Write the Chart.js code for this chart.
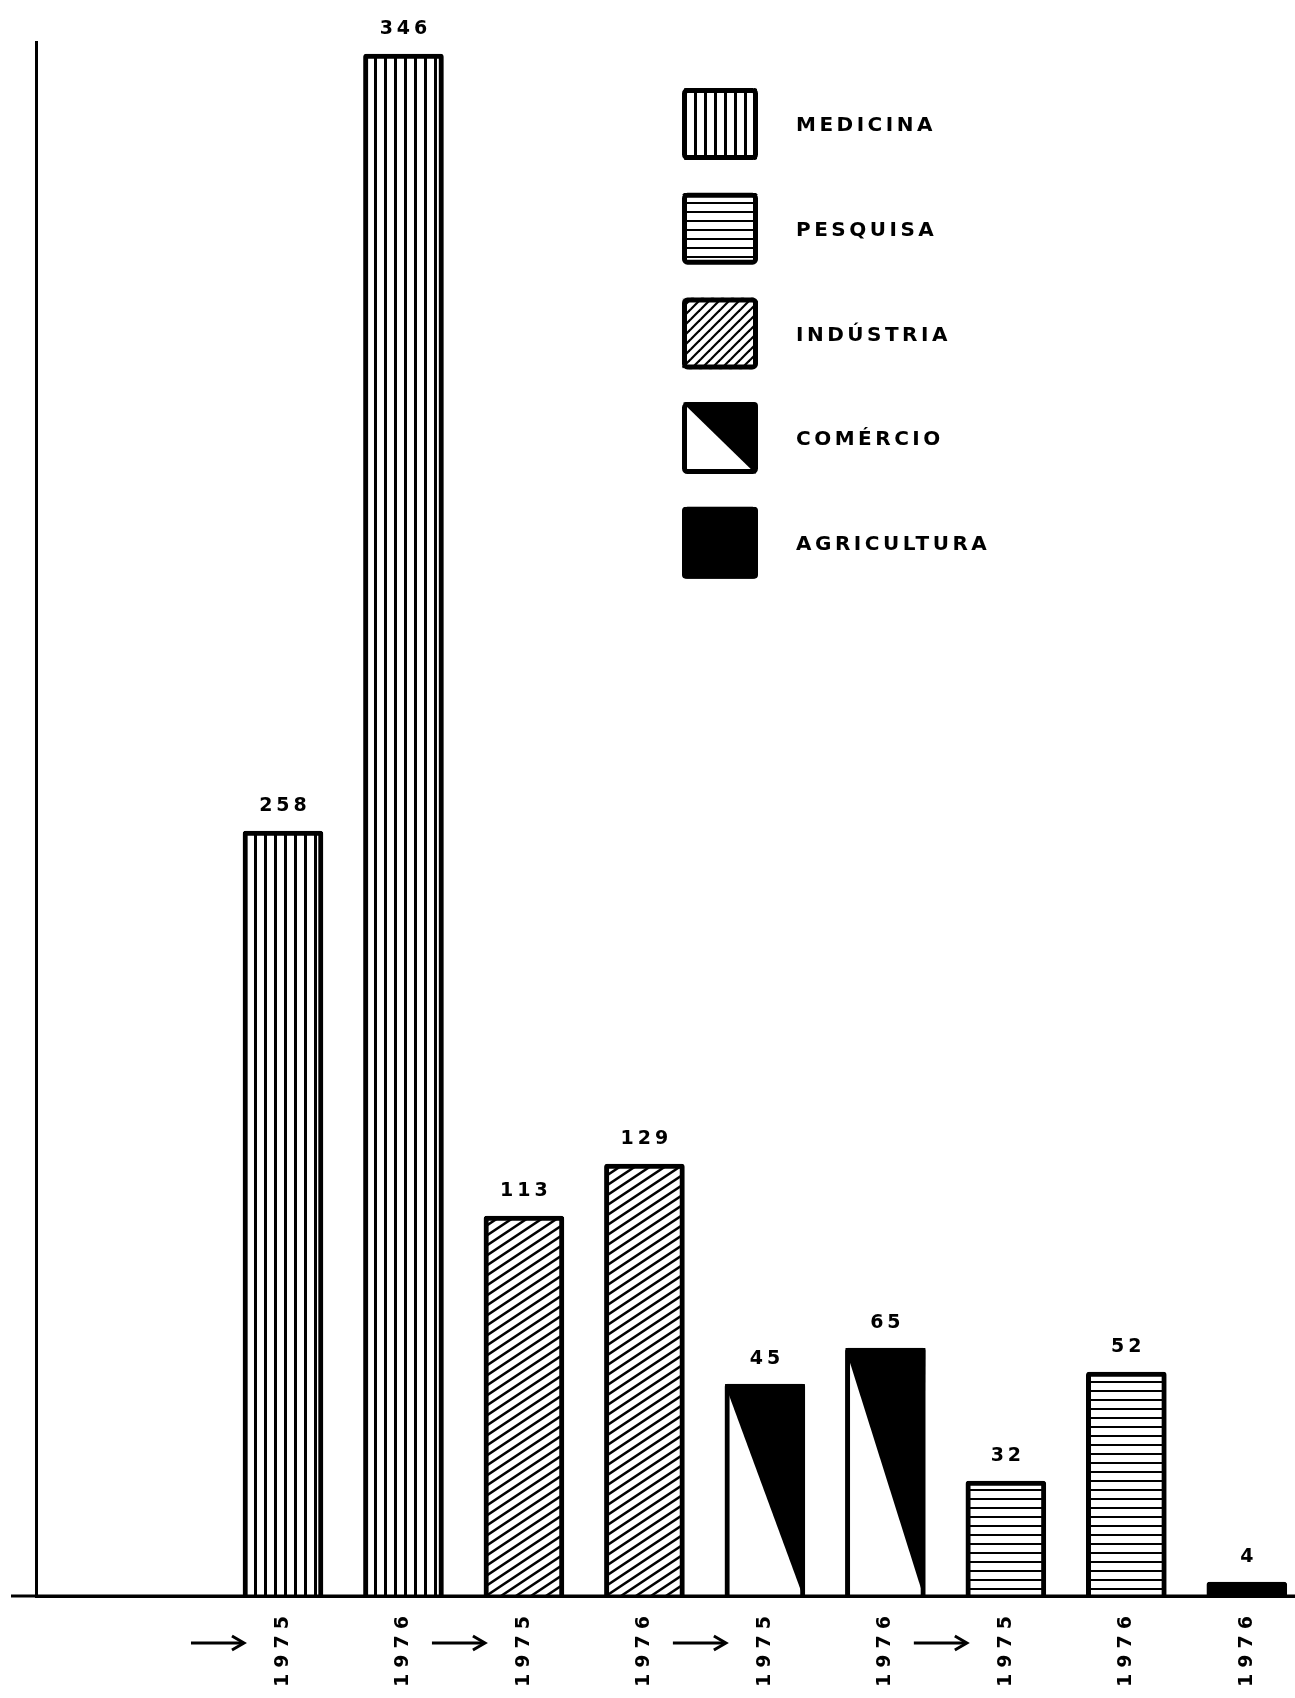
<!DOCTYPE html>
<html>
<head>
<meta charset="utf-8">
<title>Medicina, Pesquisa, Indústria, Comércio, Agricultura – 1975/1976</title>
<script src="https://cdn.jsdelivr.net/npm/chart.js@4/dist/chart.umd.min.js"></script>
<style>
  html, body { margin: 0; padding: 0; background: #fff; }
  #chart { display: block; }
</style>
</head>
<body>
<canvas id="chart" width="1295" height="1698"></canvas>
<script>
// bars, left to right
const sectors = ['MEDICINA', 'MEDICINA', 'INDÚSTRIA', 'INDÚSTRIA', 'COMÉRCIO', 'COMÉRCIO', 'PESQUISA', 'PESQUISA', 'AGRICULTURA'];
const years = ['1975', '1976', '1975', '1976', '1975', '1976', '1975', '1976', '1976'];
// numbers written above the bars
const printedValues = [258, 346, 113, 129, 45, 65, 32, 52, 4];
// the original bars are not to scale, so the heights are read off the drawing (px above the baseline)
const drawnHeights = [765, 1542, 380, 432, 212, 248, 115, 224, 14];
// legend, top to bottom
const legendLabels = ['MEDICINA', 'PESQUISA', 'INDÚSTRIA', 'COMÉRCIO', 'AGRICULTURA'];

const canvas = document.getElementById('chart');
const mainCtx = canvas.getContext('2d');
const FONT = '"DejaVu Sans", "Liberation Sans", sans-serif';

// small tile -> repeating pattern
function makePattern(w, h, draw) {
  const c = document.createElement('canvas');
  c.width = w;
  c.height = h;
  const g = c.getContext('2d');
  g.fillStyle = '#fff';
  g.fillRect(0, 0, w, h);
  g.fillStyle = '#000';
  g.strokeStyle = '#000';
  draw(g, w, h);
  return mainCtx.createPattern(c, 'repeat');
}

// lines rising left to right, one per tile
function diagonal(g, w, h, lw) {
  g.lineWidth = lw;
  for (let k = -1; k <= 1; k++) {
    g.beginPath();
    g.moveTo(-2, h + 2 * h / w + k * h);
    g.lineTo(w + 2, -2 * h / w + k * h);
    g.stroke();
  }
}

const verticalLines = makePattern(10, 4, (g) => g.fillRect(4, 0, 3, 4));
const horizontalLines = makePattern(4, 9, (g) => g.fillRect(0, 4, 4, 2));
const slantLines = makePattern(15, 10, (g, w, h) => diagonal(g, w, h, 2.5));
const slantLegend = makePattern(10, 10, (g, w, h) => diagonal(g, w, h, 2.2));

const fills = {
  'MEDICINA': verticalLines,
  'PESQUISA': horizontalLines,
  'INDÚSTRIA': slantLines,
  'COMÉRCIO': '#fff',
  'AGRICULTURA': '#000'
};

// white lower-left half, black upper-right half
function comercioTriangle(ctx, left, top, right, bottom) {
  ctx.fillStyle = '#000';
  ctx.beginPath();
  ctx.moveTo(left, top);
  ctx.lineTo(right, top);
  ctx.lineTo(right - 2, bottom);
  ctx.closePath();
  ctx.fill();
}

const decorations = {
  id: 'decorations',
  beforeDraw(chart) {
    // spaced-out lettering for the year labels
    chart.ctx.letterSpacing = '6px';
  },
  afterDatasetsDraw(chart) {
    const ctx = chart.ctx;
    const area = chart.chartArea;
    const meta = chart.getDatasetMeta(0);
    ctx.save();

    meta.data.forEach((bar, i) => {
      const { x, y, base, width } = bar.getProps(['x', 'y', 'base', 'width'], true);
      if (sectors[i] === 'COMÉRCIO') {
        comercioTriangle(ctx, x - width / 2, y, x + width / 2, base);
      }

      // number above the bar
      ctx.fillStyle = '#000';
      ctx.font = 'bold 19px ' + FONT;
      ctx.letterSpacing = '4px';
      ctx.textAlign = 'center';
      ctx.textBaseline = 'middle';
      ctx.fillText(String(printedValues[i]), x + 2, y - 25);

      // arrow in front of each pair of years
      if (years[i] === '1975') {
        const ax = x - 65;
        const ay = area.bottom + 47;
        ctx.strokeStyle = '#000';
        ctx.lineWidth = 3;
        ctx.beginPath();
        ctx.moveTo(ax - 27, ay);
        ctx.lineTo(ax + 25, ay);
        ctx.stroke();
        ctx.beginPath();
        ctx.moveTo(ax + 14, ay - 7);
        ctx.lineTo(ax + 26, ay);
        ctx.lineTo(ax + 14, ay + 7);
        ctx.stroke();
      }
    });

    // baseline runs a bit left of the vertical axis
    ctx.strokeStyle = '#000';
    ctx.lineWidth = 3;
    ctx.beginPath();
    ctx.moveTo(11, area.bottom);
    ctx.lineTo(area.right, area.bottom);
    ctx.stroke();

    // legend
    legendLabels.forEach((label, i) => {
      const bx = 682, by = 88 + i * 104.7, bw = 76, bh = 72;
      ctx.save();
      ctx.beginPath();
      ctx.roundRect(bx, by, bw, bh, 4);
      ctx.clip();
      ctx.fillStyle = label === 'INDÚSTRIA' ? slantLegend : fills[label];
      ctx.fillRect(bx, by, bw, bh);
      if (label === 'COMÉRCIO') comercioTriangle(ctx, bx, by, bx + bw, by + bh);
      ctx.restore();
      ctx.strokeStyle = '#000';
      ctx.lineWidth = 5;
      ctx.beginPath();
      ctx.roundRect(bx + 2.5, by + 2.5, bw - 5, bh - 5, 3);
      ctx.stroke();

      ctx.fillStyle = '#000';
      ctx.font = 'bold 20px ' + FONT;
      ctx.letterSpacing = '3.5px';
      ctx.textAlign = 'left';
      ctx.textBaseline = 'middle';
      ctx.fillText(label, 796, by + bh / 2 + 2);
    });

    ctx.restore();
  },
  afterDraw(chart) {
    chart.ctx.letterSpacing = '0px';
  }
};

new Chart(canvas, {
  type: 'bar',
  data: {
    datasets: [{
      data: drawnHeights.map((h, i) => ({ x: i, y: h })),
      backgroundColor: sectors.map((s) => fills[s]),
      borderColor: '#000',
      borderWidth: 5,
      borderRadius: 3,
      barThickness: 80
    }]
  },
  options: {
    responsive: false,
    devicePixelRatio: 1,
    animation: false,
    layout: { padding: { left: 36, top: 42, right: 0, bottom: 0 } },
    plugins: {
      legend: { display: false },
      tooltip: { enabled: false }
    },
    scales: {
      x: {
        type: 'linear',
        offset: false,
        min: -2.05,
        max: 8.4,
        afterBuildTicks: (scale) => { scale.ticks = years.map((_, i) => ({ value: i })); },
        afterFit: (scale) => { scale.height = 102; },
        grid: { display: false, drawTicks: false },
        border: { display: true, color: '#000', width: 3 },
        ticks: {
          autoSkip: false,
          minRotation: 90,
          maxRotation: 90,
          padding: 14,
          color: '#000',
          font: { family: FONT, weight: 'bold', size: 19 },
          callback: (v) => years[v] ?? ''
        }
      },
      y: {
        min: 0,
        max: 1554,
        afterFit: (scale) => { scale.width = 0; },
        grid: { display: false, drawTicks: false },
        border: { display: true, color: '#000', width: 3 },
        ticks: { display: false }
      }
    }
  },
  plugins: [decorations]
});
</script>
</body>
</html>
